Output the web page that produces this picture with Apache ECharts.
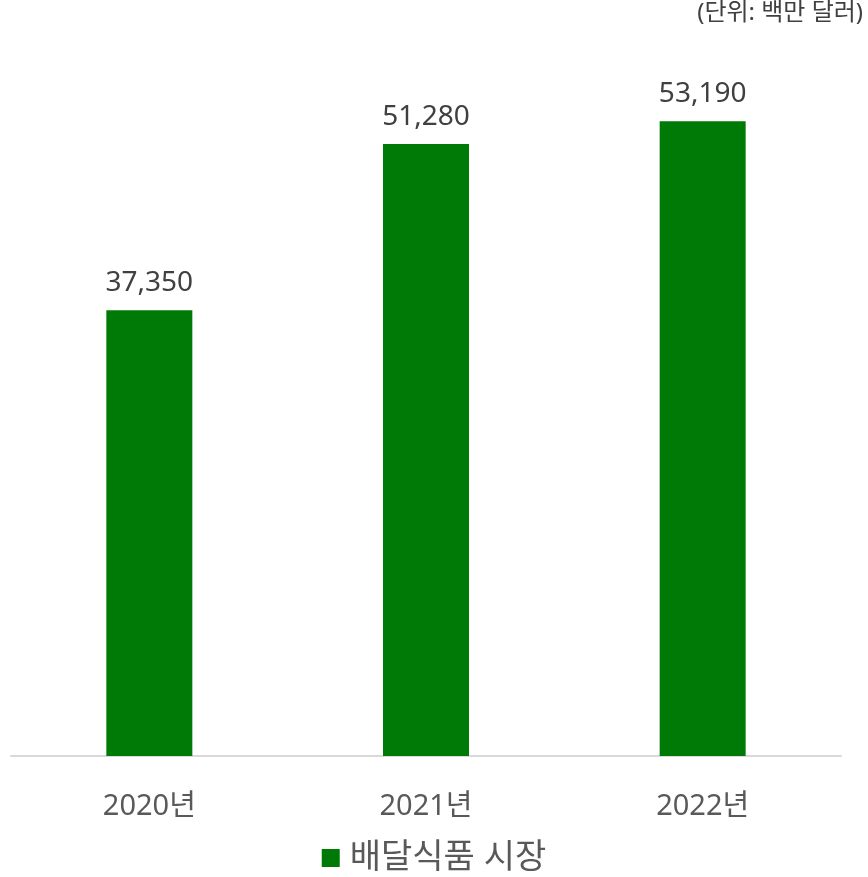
<!DOCTYPE html>
<html>
<head>
<meta charset="utf-8">
<script src="https://cdn.jsdelivr.net/npm/echarts@6/dist/echarts.min.js"></script>
<style>
  html, body { margin: 0; padding: 0; background: #fff; }
  #main { width: 868px; height: 877px; }
</style>
</head>
<body>
<div id="main"></div>
<script>
// 데이터
var years = ['2020년', '2021년', '2022년'];
var marketValues = [37350, 51280, 53190];
var seriesName = '배달식품 시장';
var unitText = '(단위: 백만 달러)';

var FONT = '"Noto Sans", "Noto Sans CJK KR", sans-serif';

var myChart = echarts.init(document.getElementById('main'));
myChart.setOption({
  animation: false,
  textStyle: { fontFamily: FONT },
  graphic: [{
    type: 'text',
    right: 5,
    top: 1,
    style: {
      text: unitText,
      font: '24px ' + FONT,
      fill: '#404040'
    }
  }],
  legend: {
    bottom: -3,
    left: 'center',
    itemWidth: 18,
    itemHeight: 18,
    itemGap: 10,
    icon: 'rect',
    textStyle: { fontSize: 34, color: '#595959', fontFamily: FONT, padding: [0, 0, 0, 5] },
    data: [seriesName]
  },
  grid: {
    left: 11,
    right: 27,
    top: 40,
    bottom: 121,
    containLabel: false
  },
  xAxis: {
    type: 'category',
    data: years,
    axisLine: { lineStyle: { color: '#d9d9d9', width: 2 } },
    axisTick: { show: false },
    axisLabel: { fontSize: 29, color: '#595959', margin: 36, fontFamily: FONT }
  },
  yAxis: {
    type: 'value',
    min: 0,
    max: 60000,
    show: false,
    splitLine: { show: false }
  },
  series: [{
    name: seriesName,
    type: 'bar',
    data: marketValues,
    barWidth: 86,
    itemStyle: { color: '#007a07' },
    label: {
      show: true,
      position: 'top',
      distance: 13,
      fontSize: 28,
      color: '#404040',
      fontFamily: FONT,
      formatter: function (p) { return p.value.toLocaleString('en-US'); }
    }
  }]
});
</script>
</body>
</html>
